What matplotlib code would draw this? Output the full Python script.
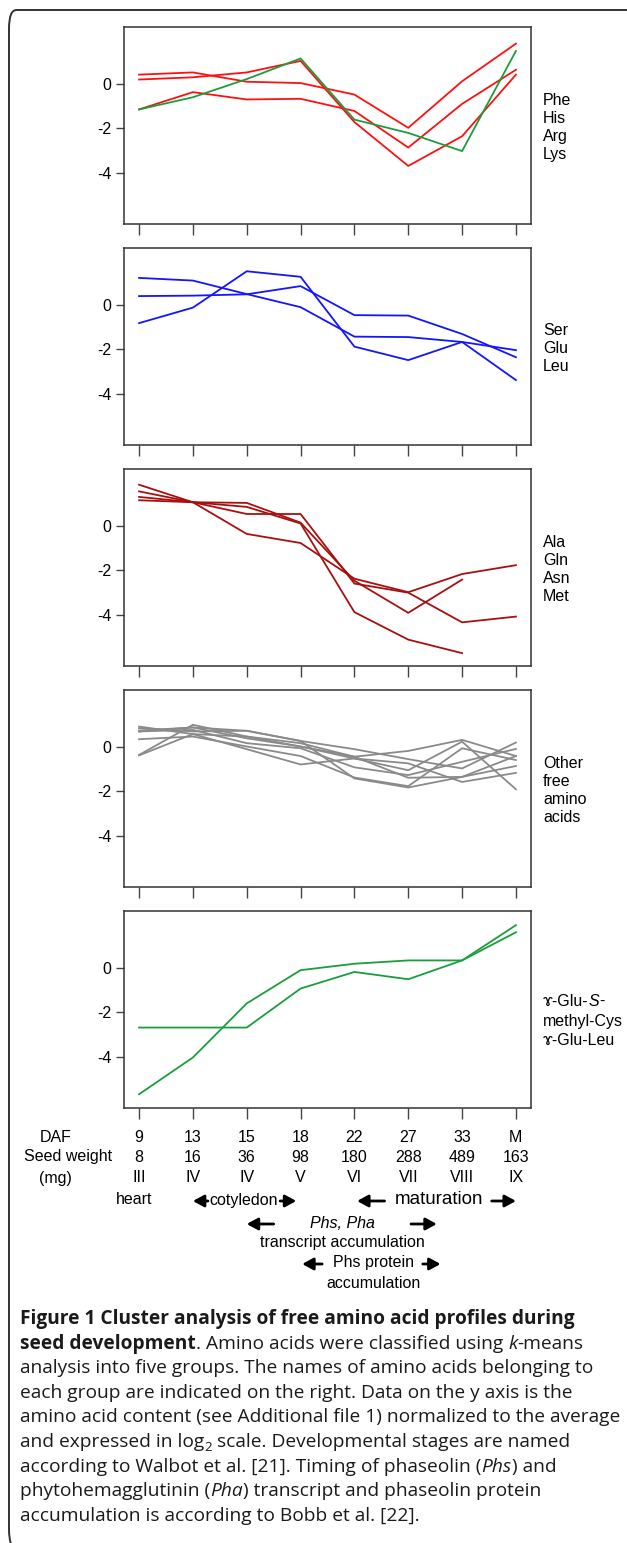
import numpy as np
import matplotlib
matplotlib.use("Agg")
import matplotlib.pyplot as plt
from matplotlib.patches import FancyBboxPatch

plt.rcParams['font.family'] = ['Liberation Sans', 'DejaVu Sans']

# x axis labels (bottom table)
daf = ['9', '13', '15', '18', '22', '27', '33', 'M']
seed_weight = ['8', '16', '36', '98', '180', '288', '489', '163']
stages = ['III', 'IV', 'IV', 'V', 'VI', 'VII', 'VIII', 'IX']

# group 1: Phe His Arg Lys
group1 = [
    [0.42, 0.52, 0.10, 0.04, -0.48, -1.98, 0.12, 1.82],
    [0.20, 0.30, 0.52, 1.04, -1.72, -3.70, -2.36, 0.42],
    [-1.15, -0.37, -0.70, -0.67, -1.22, -2.87, -0.90, 0.64],
    [-1.15, -0.60, 0.22, 1.15, -1.61, -2.21, -3.03, 1.49],
]
# group 2: Ser Glu Leu
group2 = [
    [1.22, 1.10, 0.49, -0.10, -1.43, -1.45, -1.67, -2.04],
    [0.40, 0.42, 0.48, 0.85, -0.46, -0.48, -1.31, -2.36],
    [-0.82, -0.12, 1.52, 1.27, -1.88, -2.49, -1.67, -3.39],
]
# group 3: Ala Gln Asn Met (two series have no value at M)
group3 = [
    [1.31, 1.07, 1.04, 0.15, -2.47, -3.92, -2.42, np.nan],
    [1.16, 1.07, 0.86, 0.11, -3.89, -5.13, -5.74, np.nan],
    [1.56, 1.07, 0.54, 0.54, -2.60, -3.01, -4.35, -4.09],
    [1.86, 1.07, -0.36, -0.77, -2.38, -2.99, -2.17, -1.77],
]
# group 4: other free amino acids
group4 = [
    [0.85, 0.70, 0.73, 0.27, -0.10, -0.55, -0.97, 0.20],
    [0.92, 0.58, 0.47, 0.17, -0.44, -0.18, 0.32, -0.41],
    [0.74, 0.88, 0.39, 0.02, -0.52, -1.05, 0.24, -1.91],
    [0.70, 0.77, 0.17, -0.06, -0.92, -1.27, -0.67, -0.09],
    [0.35, 0.47, 0.02, -0.41, -1.38, -1.77, -0.06, -0.59],
    [-0.36, 1.00, 0.47, 0.02, -0.44, -1.39, -1.35, -0.86],
    [-0.38, 0.58, -0.10, -0.79, -0.52, -0.74, -1.58, -1.17],
    [0.70, 0.88, 0.73, 0.27, -1.42, -1.83, -1.35, -0.41],
]
# group 5: gamma-Glu-S-methyl-Cys, gamma-Glu-Leu
group5 = [
    [-2.69, -2.69, -2.69, -0.93, -0.18, -0.51, 0.34, 1.93],
    [-5.70, -4.04, -1.60, -0.10, 0.19, 0.34, 0.34, 1.61],
]

RED = '#FF1010'
GREEN = '#1A9E3C'
BLUE = '#1414FF'
DARKRED = '#A81010'
GRAY = '#8A8A8A'

panels = [
    (group1, [RED, RED, RED, GREEN], 'Phe\nHis\nArg\nLys'),
    (group2, [BLUE] * 3, 'Ser\nGlu\nLeu'),
    (group3, [DARKRED] * 4, 'Ala\nGln\nAsn\nMet'),
    (group4, [GRAY] * 8, 'Other\nfree\namino\nacids'),
    (group5, [GREEN] * 2, None),
]

W, H = 627, 1543
fig = plt.figure(figsize=(W / 100, H / 100), dpi=100)
renderer = fig.canvas.get_renderer()


def fx(px):
    return px / W


def fy(py):
    return 1 - py / H


# rounded frame around the figure
frame = FancyBboxPatch((fx(9), fy(1548)), fx(640) - fx(9), fy(10) - fy(1548),
                       boxstyle="round,pad=0,rounding_size=0.012",
                       transform=fig.transFigure, fill=False,
                       edgecolor='#333333', lw=1.4, clip_on=False)
fig.patches.append(frame)

x = np.arange(1, 9)
ax_left, ax_right = 124, 531
for i, (data, colors, label) in enumerate(panels):
    top = 27 + i * 221
    bot = top + 197
    ax = fig.add_axes([fx(ax_left), fy(bot), fx(ax_right) - fx(ax_left), fy(top) - fy(bot)])
    for row, c in zip(data, colors):
        ax.plot(x, row, color=c, lw=1.3)
    ax.set_xlim(0.72, 8.28)
    ax.set_ylim(-6.32, 2.57)
    ax.set_xticks(x)
    ax.set_xticklabels([])
    ax.set_yticks([-4, -2, 0])
    ax.set_yticklabels(['-4', '-2', '0'])
    ax.tick_params(axis='x', direction='out', length=8, width=1, color='#444444')
    ax.tick_params(axis='y', direction='out', length=6, width=1, color='#444444',
                   labelsize=11.5, pad=3)
    for s in ax.spines.values():
        s.set_color('#333333')
        s.set_linewidth(1.1)
    if label:
        fig.text(fx(543), fy((top + bot) / 2 + 2), label, fontsize=11.5,
                 va='center', ha='left', linespacing=1.25)


def width_of(txt, **kw):
    a = fig.text(0, 0, '|' + txt + '|', **kw)
    b = fig.text(0, 0, '||', **kw)
    w = a.get_window_extent(renderer).width - b.get_window_extent(renderer).width
    a.remove()
    b.remove()
    return w


def draw_runs(px, py, runs, **base):
    for txt, kw in runs:
        opts = dict(base)
        dy = kw.pop('dy', 0)
        opts.update(kw)
        fig.text(fx(px), fy(py + dy), txt, va='baseline', ha='left', **opts)
        px += width_of(txt, **opts)


# labels of group 5
lab5 = dict(fontsize=11.5, family=['Liberation Sans', 'DejaVu Sans'])
draw_runs(543, 1006, [('\u0264-Glu-', {}), ('S', {'style': 'italic'}), ('-', {})], **lab5)
draw_runs(543, 1026, [('methyl-Cys', {})], **lab5)
draw_runs(543, 1045, [('\u0264-Glu-Leu', {})], **lab5)

# table under the panels
tab = fig.add_axes([fx(ax_left), fy(1300), fx(ax_right) - fx(ax_left), fy(1120) - fy(1300)])
tab.set_xlim(0.72, 8.28)
tab.set_ylim(1300, 1120)
tab.axis('off')
ts = 11.5
for row_y, vals in [(1137, daf), (1157, seed_weight), (1178, stages)]:
    for xi, v in zip(x, vals):
        tab.text(xi, row_y, v, ha='center', va='center', fontsize=ts)
tab.text(-0.55, 1137, 'DAF', ha='center', va='center', fontsize=ts)
tab.text(-0.32, 1157, 'Seed weight', ha='center', va='center', fontsize=ts)
tab.text(-0.55, 1178, '(mg)', ha='center', va='center', fontsize=ts)

tab.text(0.9, 1200, 'heart', ha='center', va='center', fontsize=ts)
tab.text(2.95, 1200, 'cotyledon', ha='center', va='center', fontsize=ts)
tab.text(6.58, 1200, 'maturation', ha='center', va='center', fontsize=ts + 2)
tab.text(4.77, 1223, 'Phs, Pha', ha='center', va='center', fontsize=ts, style='italic')
tab.text(4.78, 1242, 'transcript accumulation', ha='center', va='center', fontsize=ts)
tab.text(5.35, 1263, 'Phs protein', ha='center', va='center', fontsize=ts)
tab.text(5.35, 1283, 'accumulation', ha='center', va='center', fontsize=ts)

arrows = [
    (2.28, 2.0, 1201), (3.62, 3.92, 1201),
    (5.56, 5.05, 1201), (7.55, 8.0, 1201),
    (3.5, 3.0, 1224), (6.05, 6.53, 1224),
    (4.40, 4.03, 1264), (6.27, 6.60, 1264),
]
for x0, x1, yy in arrows:
    tab.annotate('', xy=(x1, yy), xytext=(x0, yy),
                 arrowprops=dict(arrowstyle='-|>,head_length=0.55,head_width=0.3',
                                 mutation_scale=12, lw=2, color='black',
                                 shrinkA=0, shrinkB=0))

# caption
cap = dict(family=['Open Sans', 'DejaVu Sans'], color='#1A1A1A')
line5 = 'amino acid content (see Additional file 1) normalized to the average'
csize = 10 * 602 / width_of(line5, fontsize=10, **cap)
cap['fontsize'] = csize
B = {'weight': 'bold'}
I = {'style': 'italic'}
caption = [
    [('Figure 1 Cluster analysis of free amino acid profiles during', B)],
    [('seed development', B), ('. Amino acids were classified using ', {}), ('k', I), ('-means', {})],
    [('analysis into five groups. The names of amino acids belonging to', {})],
    [('each group are indicated on the right. Data on the y axis is the', {})],
    [(line5, {})],
    [('and expressed in log', {}), ('2', {'fontsize': csize * 0.7, 'dy': 4}),
     (' scale. Developmental stages are named', {})],
    [('according to Walbot et al. [21]. Timing of phaseolin (', {}), ('Phs', I), (') and', {})],
    [('phytohemagglutinin (', {}), ('Pha', I), (') transcript and phaseolin protein', {})],
    [('accumulation is according to Bobb et al. [22].', {})],
]
for k, runs in enumerate(caption):
    draw_runs(20, 1324 + k * 24.6, [(t, dict(kw)) for t, kw in runs], **cap)

fig.savefig('out.png', dpi=100)
